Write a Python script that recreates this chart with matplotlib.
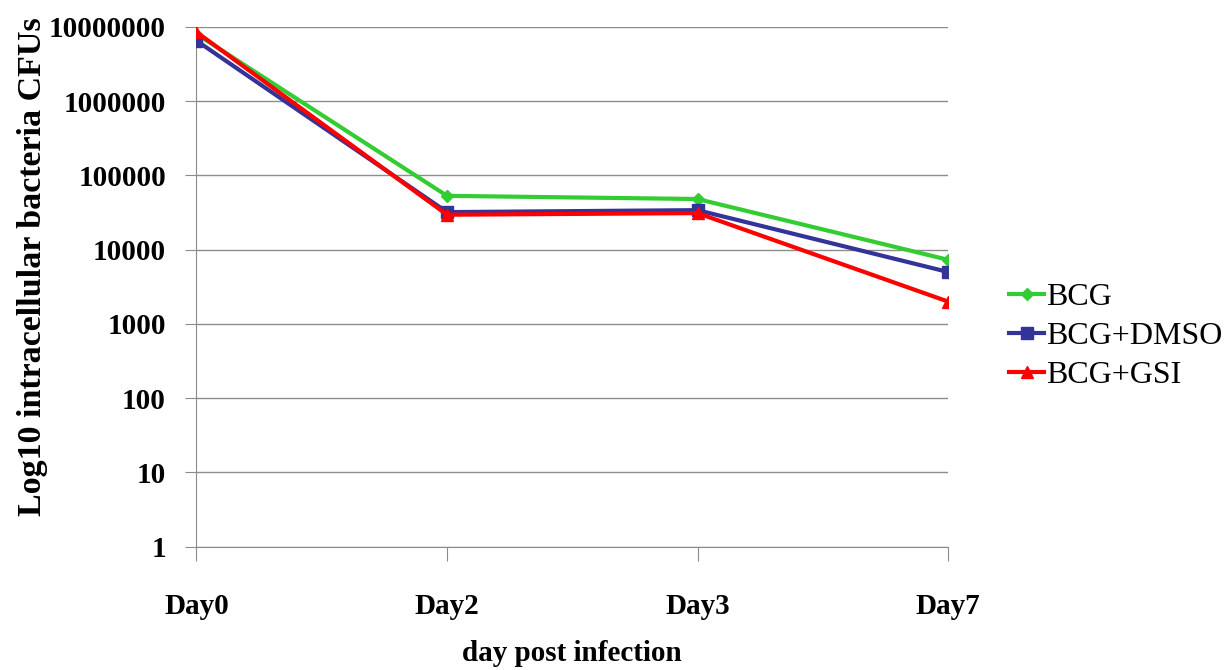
import matplotlib
matplotlib.use('Agg')
from matplotlib import pyplot as plt
from matplotlib.ticker import FixedLocator, FixedFormatter, NullLocator

# 데이터
days = ['Day0', 'Day2', 'Day3', 'Day7']
bcg = [8000000, 53000, 48000, 7300]
bcg_dmso = [6500000, 32000, 34000, 5000]
bcg_gsi = [8500000, 29500, 31000, 2000]
y_ticks = [1, 10, 100, 1000, 10000, 100000, 1000000, 10000000]

plt.rcParams['font.family'] = ['Liberation Serif', 'DejaVu Serif']

fig = plt.figure(figsize=(12.28, 6.7), dpi=100)
ax = fig.add_axes([0.160, 0.184, 0.612, 0.776])

x = range(len(days))
ax.plot(x, bcg, color='#33cc33', lw=3, marker='D', ms=6, label='BCG', zorder=3)
ax.plot(x, bcg_dmso, color='#333399', lw=3, marker='s', ms=8, label='BCG+DMSO', zorder=4)
ax.plot(x, bcg_gsi, color='#ff0000', lw=3, marker='^', ms=9, label='BCG+GSI', zorder=5)

ax.set_yscale('log')
ax.set_ylim(1, 10000000)
ax.set_xlim(0, 3)
ax.yaxis.set_major_locator(FixedLocator(y_ticks))
ax.yaxis.set_major_formatter(FixedFormatter([str(v) for v in y_ticks]))
ax.yaxis.set_minor_locator(NullLocator())
ax.grid(axis='y', color='#8c8c8c', lw=1)
ax.set_axisbelow(True)

ax.set_xticks(list(x))
ax.set_xticklabels(days)

for side in ['top', 'right']:
    ax.spines[side].set_visible(False)
ax.spines['left'].set_color('#8c8c8c')
ax.spines['bottom'].set_color('#8c8c8c')

ax.tick_params(axis='x', length=10, color='#8c8c8c', pad=23, labelsize=21)
ax.tick_params(axis='y', length=8, color='#8c8c8c', pad=14, labelsize=21)
for lbl in ax.get_xticklabels() + ax.get_yticklabels():
    lbl.set_fontweight('bold')

ax.set_xlabel('day post infection', fontsize=21, fontweight='bold', labelpad=15)
ax.set_ylabel('Log10 intracellular bacteria CFUs', fontsize=24.5, fontweight='bold', labelpad=0)
ax.yaxis.set_label_coords(-0.197, 0.538)

leg = ax.legend(loc='center left', bbox_to_anchor=(1.043, 0.405), frameon=False,
                fontsize=23, handlelength=1.1, handletextpad=0.05, labelspacing=0.3)

fig.savefig('out.png', dpi=100)
